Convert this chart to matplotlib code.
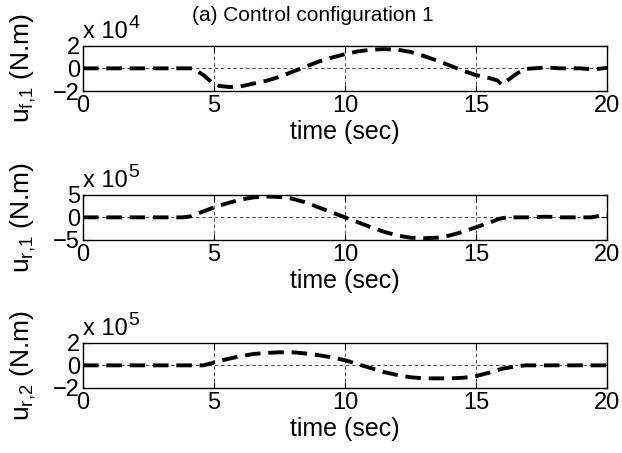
# Control inputs vs time, three stacked MATLAB-style panels.
import matplotlib
matplotlib.use("Agg")
import matplotlib.pyplot as plt

plt.rcParams["font.family"] = ["Liberation Sans", "DejaVu Sans"]
plt.rcParams["mathtext.fontset"] = "custom"
plt.rcParams["mathtext.rm"] = "Liberation Sans"
plt.rcParams["mathtext.it"] = "Liberation Sans"

# u_f,1 in units of 1e4 N.m
T_F1 = [0, 4.0, 4.2, 4.6, 4.9, 5.2, 5.6, 6.0, 6.4, 7.0, 7.5, 8.0, 8.5, 9.0, 9.5,
        10.0, 10.5, 11.0, 11.5, 12.0, 12.5, 13.0, 13.5, 14.0, 14.5, 15.0, 15.5,
        15.8, 16.0, 16.3, 16.6, 16.9, 17.2, 17.7, 18.2, 19.0, 19.5, 20]
U_F1 = [0, 0, 0, -0.6, -1.2, -1.55, -1.65, -1.6, -1.4, -1.1, -0.75, -0.3, 0.15, 0.6, 0.95,
        1.25, 1.5, 1.65, 1.7, 1.65, 1.45, 1.1, 0.7, 0.25, -0.2, -0.6, -0.85,
        -1.05, -1.45, -0.9, -0.4, -0.05, 0.0, 0.08, 0.0, 0.0, -0.1, 0.05]

# u_r,1 in units of 1e5 N.m
T_R1 = [0, 3.8, 4.1, 4.5, 5.0, 5.5, 6.0, 6.5, 7.0, 7.5, 8.0, 8.5, 9.0, 9.5, 10.0,
        10.5, 11.0, 11.5, 12.0, 12.5, 13.0, 13.5, 14.0, 14.5, 15.0, 15.5, 15.9,
        16.2, 17.0, 17.7, 18.3, 19.4, 19.7, 20]
U_R1 = [0, 0, 0.2, 1.1, 2.2, 3.1, 3.9, 4.4, 4.6, 4.5, 4.1, 3.3, 2.2, 1.1, 0.0,
        -1.1, -2.2, -3.2, -4.0, -4.5, -4.6, -4.5, -4.0, -3.2, -2.2, -1.2, -0.3,
        0.0, 0.0, 0.15, 0.0, 0.0, 0.3, 0.3]

# u_r,2 in units of 1e5 N.m
T_R2 = [0, 4.6, 5.0, 5.5, 6.0, 6.5, 7.0, 7.5, 8.0, 8.5, 9.0, 9.5, 10.0, 10.5,
        11.0, 11.5, 12.0, 12.5, 13.0, 13.5, 14.0, 14.5, 15.0, 15.5, 16.0, 16.5,
        16.9, 20]
U_R2 = [0, 0, 0.25, 0.55, 0.8, 1.0, 1.1, 1.15, 1.15, 1.05, 0.9, 0.7, 0.45, 0.1,
        -0.25, -0.6, -0.85, -1.05, -1.15, -1.15, -1.15, -1.1, -0.95, -0.65, -0.3, -0.1,
        0.0, 0.0]

PANELS = [
    (T_F1, U_F1, 2, "4", r"u$_{\mathregular{f{,}1}}$ (N.m)", 0.7991),
    (T_R1, U_R1, 5, "5", r"u$_{\mathregular{r{,}1}}$ (N.m)", 0.4702),
    (T_R2, U_R2, 2, "5", r"u$_{\mathregular{r{,}2}}$ (N.m)", 0.1435),
]

FS = 17


def main():
    fig = plt.figure(figsize=(6.22, 4.53), dpi=100)
    for t, u, lim, expo, ylab, bottom in PANELS:
        ax = fig.add_axes([0.1334, bottom, 0.8424, 0.100])
        ax.plot(t, u, color="black", linewidth=2.8, dashes=(4, 2.0))
        ax.set_xlim(0, 20)
        ax.set_ylim(-lim, lim)
        ax.set_xticks([0, 5, 10, 15, 20])
        ax.set_yticks([-lim, 0, lim])
        for x in (5, 10, 15):
            ax.axvline(x, color="black", linewidth=0.5, dashes=(5, 4), zorder=0)
        ax.axhline(0, color="black", linewidth=0.5, dashes=(5, 4), zorder=0)
        ax.tick_params(direction="in", length=4, labelsize=FS, pad=2,
                       top=True, right=True)
        ax.tick_params(axis="x", pad=3)
        for s in ax.spines.values():
            s.set_linewidth(1.0)
        ax.set_xlabel("time (sec)", fontsize=18, labelpad=2)
        ax.set_ylabel(ylab, fontsize=19)
        ax.yaxis.set_label_coords(-0.086, 0.5)
        ax.text(0.0, 1.06, "x 10", transform=ax.transAxes,
                fontsize=17, ha="left", va="bottom")
        ax.text(0.087, 1.30, expo, transform=ax.transAxes,
                fontsize=14, ha="left", va="bottom")

    fig.text(0.503, 0.965, "(a) Control configuration 1", fontsize=15,
             ha="center", va="center")

    fig.savefig("out.png", dpi=100)


if __name__ == "__main__":
    main()
